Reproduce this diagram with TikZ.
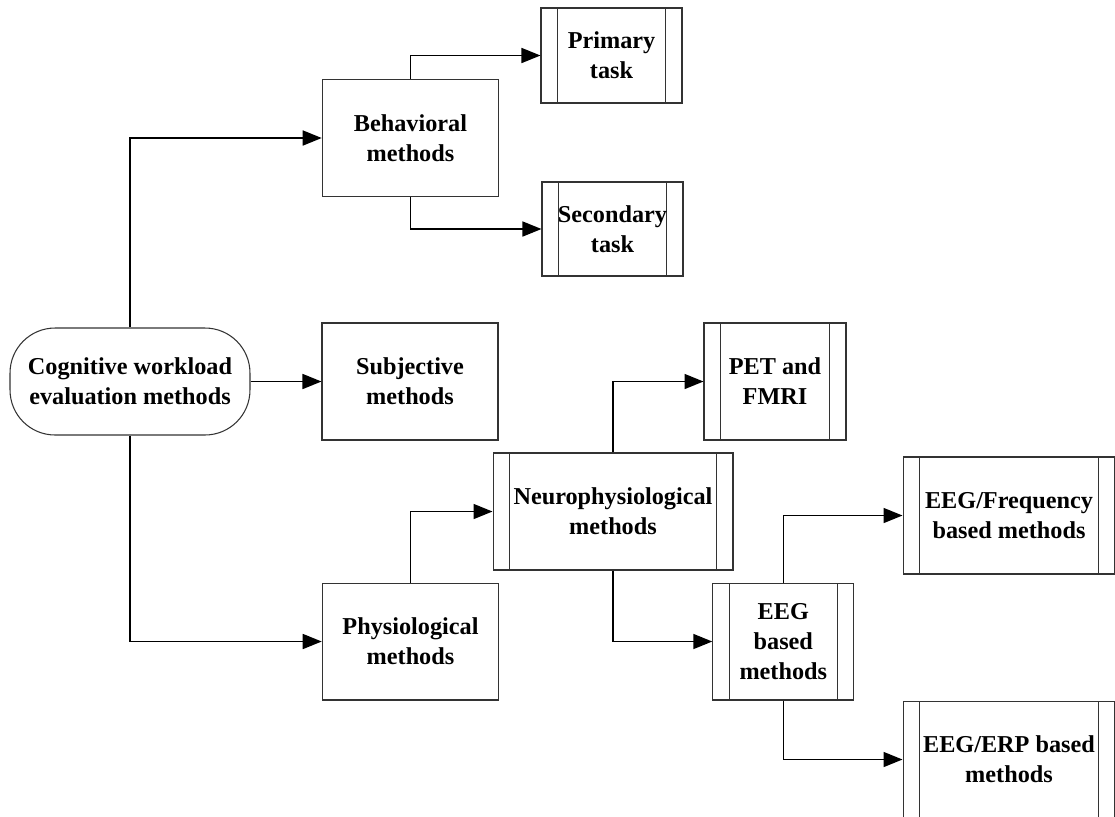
\documentclass[tikz,border=0pt]{standalone}
\usepackage{fontspec}
\setmainfont{Liberation Serif}[BoldFont={Liberation Serif Bold}]
\usetikzlibrary{arrows.meta}

\begin{document}
\begin{tikzpicture}[x=0.02cm, y=-0.02cm,
  box/.style={draw=black!80, line width=0.6pt, fill=white, align=center,
              inner sep=2pt, font=\fontsize{13.8}{17}\selectfont\rmfamily\bfseries},
  proc/.style={box, path picture={
      \draw[black!80, line width=0.6pt]
        ([xshift=0.33cm]path picture bounding box.north west) --
        ([xshift=0.33cm]path picture bounding box.south west)
        ([xshift=-0.33cm]path picture bounding box.north east) --
        ([xshift=-0.33cm]path picture bounding box.south east);}},
  term/.style={box, rounded corners=0.9cm},
  arr/.style={-{Triangle[length=0.38cm, width=0.3cm]}, line width=0.9pt}
]
\clip (0,0) rectangle (1115,816);

% root
\node[term, minimum width=4.8cm, minimum height=2.14cm] (root) at (130, 381.5)
  {Cognitive workload\\evaluation methods};

% second level
\node[box, minimum width=3.53cm, minimum height=2.34cm] (beh)  at (410.5, 138)   {Behavioral\\methods};
\node[box, minimum width=3.52cm, minimum height=2.34cm] (subj) at (410, 381.5)   {Subjective\\methods};
\node[box, minimum width=3.53cm, minimum height=2.34cm] (phys) at (410.5, 641.5) {Physiological\\methods};

% behavioral branch
\node[proc, minimum width=2.82cm, minimum height=1.9cm]  (prim) at (611.5, 55.5) {Primary\\task};
\node[proc, minimum width=2.82cm, minimum height=1.88cm] (sec)  at (612.5, 229)  {Secondary\\task};

% physiological branch
\node[proc, minimum width=4.8cm, minimum height=2.34cm]  (neuro) at (613, 511.5)   {Neurophysiological\\methods};
\node[proc, minimum width=2.84cm, minimum height=2.34cm] (pet)   at (775, 381.5)   {PET and\\FMRI};
\node[proc, minimum width=2.82cm, minimum height=2.34cm] (eeg)   at (783.3, 641.5) {EEG\\based\\methods};
\node[proc, minimum width=4.24cm, minimum height=2.34cm] (freq)  at (1009, 515.5)  {EEG/Frequency\\based methods};
\node[proc, minimum width=4.24cm, minimum height=2.34cm] (erp)   at (1009, 759.5)  {EEG/ERP based\\methods};

% connectors
\draw[arr] (root.north) |- (beh.west);
\draw[arr] (root.east) -- (subj.west);
\draw[arr] (root.south) |- (phys.west);

\draw[arr] (beh.north) |- (prim.west);
\draw[arr] (beh.south) |- (sec.west);

\draw[arr] (phys.north) |- (neuro.west);
\draw[arr] (neuro.north) |- (pet.west);
\draw[arr] (neuro.south) |- (eeg.west);

\draw[arr] (eeg.north) |- (freq.west);
\draw[arr] (eeg.south) |- (erp.west);

\end{tikzpicture}
\end{document}
